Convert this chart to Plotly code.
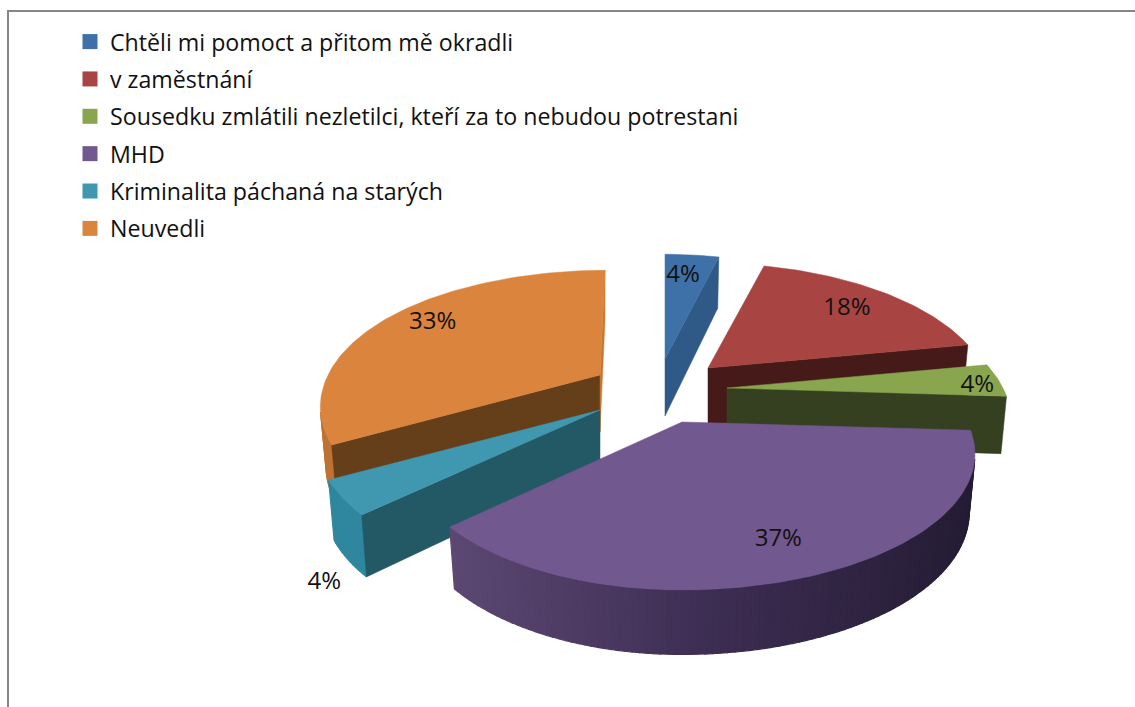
import math
import plotly.graph_objects as go

# ---- data ----
categories = ["Chtěli mi pomoct a přitom mě okradli", "v zaměstnání",
              "Sousedku zmlátili nezletilci, kteří za to nebudou potrestani",
              "MHD", "Kriminalita páchaná na starých", "Neuvedli"]
values = [4, 18, 4, 37, 4, 33]

# ---- style ----
top_colors = ["#3E71A8", "#A84442", "#89A54E", "#71588F", "#4098B0", "#DB843D"]
radial_colors = ["#2F5A87", "#451A18", "#344020", "#4A3A60", "#235865", "#653E1A"]
end_wall_colors = ["#2F5A87", "#451A18", "#344020", "#4A3A60", "#235865", "#C8762F"]
outer_colors = ["#2F5A87", "#6E2C2A", "#5E7235", None, "#2E879E", "#BE7234"]
# exploded position of each slice's tip, in page pixels
tips = [(665, 359), (708, 368), (727, 388), (682, 422), (600, 410), (600, 375)]
# horizontal reach right/left of each slice
reach = [(265, 265), (276, 276), (276, 276), (285, 268), (275, 275), (272, 272)]
# sideways lean of the back of a slice
lean = [0, 0, 0, 0, 0, 5]
label_frac = [0.82, 0.80, 0.90, 0.78, 1.00, 0.80]
label_shift = [(-4, 2), (0, 2), (6, 5), (0, -3), (-18, 85), (0, -5)]
B, K, H = 129, 0.232, 57
draw_order = [0, 1, 5, 2, 4, 3]
FONT = "Open Sans"


def project(i, theta):
    X, Y = math.sin(theta), math.cos(theta)
    p = 1 / (1 + K * Y)
    A = reach[i][0] if X >= 0 else reach[i][1]
    return tips[i][0] + A * X * p + lean[i] * max(Y, 0) ** 4, tips[i][1] - B * Y * p


def drop(i, pt, theta):
    Y = math.cos(theta)
    x, y = pt
    return tips[i][0] + (x - tips[i][0]) * 0.98, y + H / (1 + 0.5 * K * Y)


def area(poly):
    return sum(poly[j][0] * poly[(j + 1) % len(poly)][1] - poly[(j + 1) % len(poly)][0] * poly[j][1]
               for j in range(len(poly))) / 2


def face(fig, poly, color, width=0.5):
    xs = [p[0] for p in poly] + [poly[0][0]]
    ys = [p[1] for p in poly] + [poly[0][1]]
    fig.add_trace(go.Scatter(x=xs, y=ys, mode="lines", fill="toself", fillcolor=color,
                             line=dict(color=color, width=width), showlegend=False, hoverinfo="skip"))


def purple_wall(xpos):
    stops = [(450, (92, 72, 114)), (700, (62, 46, 84)), (975, (36, 28, 52))]
    for (a, ca), (b, cb) in zip(stops, stops[1:]):
        if xpos <= b:
            t = max(0, (xpos - a) / (b - a))
            return "rgb(%d,%d,%d)" % tuple(round(u + (v - u) * t) for u, v in zip(ca, cb))
    return "rgb(36,28,52)"


fig = go.Figure()
total = sum(values)
starts, acc = [], 0
for v in values:
    starts.append(acc)
    acc += v

for i in draw_order:
    t0 = 2 * math.pi * starts[i] / total
    t1 = 2 * math.pi * (starts[i] + values[i]) / total
    steps = max(4, int(values[i] * 3))
    thetas = [t0 + (t1 - t0) * s / steps for s in range(steps + 1)]
    rim = [project(i, t) for t in thetas]
    low = [drop(i, r, t) for r, t in zip(rim, thetas)]
    tip = tips[i]
    tip_low = drop(i, tip, math.pi / 2)

    # outer wall, only the segments turned to the viewer
    for s in range(steps):
        quad = [rim[s], rim[s + 1], low[s + 1], low[s]]
        if area(quad) < 0:
            col = outer_colors[i] or purple_wall((rim[s][0] + rim[s + 1][0]) / 2)
            face(fig, quad, col, width=1.2)
    # radial walls
    start_wall = [tip, rim[0], low[0], tip_low]
    end_wall = [rim[-1], tip, tip_low, low[-1]]
    if area(start_wall) < 0:
        face(fig, start_wall, radial_colors[i])
    if area(end_wall) < 0:
        face(fig, end_wall, end_wall_colors[i])
    # top face
    face(fig, [tip] + rim, top_colors[i])

# percent labels
lx, ly, lt = [], [], []
for i in range(len(values)):
    mid = 2 * math.pi * (starts[i] + values[i] / 2) / total
    rx, ry = project(i, mid)
    lx.append(tips[i][0] + (rx - tips[i][0]) * label_frac[i] + label_shift[i][0])
    ly.append(tips[i][1] + (ry - tips[i][1]) * label_frac[i] + label_shift[i][1])
    lt.append(f"{round(100 * values[i] / total)}%")
fig.add_trace(go.Scatter(x=lx, y=ly, text=lt, mode="text", showlegend=False, hoverinfo="skip",
                         textfont=dict(family=FONT, size=24, color="#111111")))

# legend entries
for i, name in enumerate(categories):
    fig.add_trace(go.Scatter(x=[None], y=[None], mode="markers", name=name, legendgroup=str(i),
                             marker=dict(symbol="square", size=15, color=top_colors[i])))

fig.update_layout(
    width=1135, height=707, margin=dict(l=0, r=0, t=0, b=0),
    paper_bgcolor="white", plot_bgcolor="white",
    xaxis=dict(range=[0, 1135], visible=False, fixedrange=True),
    yaxis=dict(range=[707, 0], visible=False, fixedrange=True),
    legend=dict(x=70 / 1135, y=1 - 20 / 707, xanchor="left", yanchor="top",
                font=dict(family=FONT, size=23.2, color="#111111"),
                traceorder="grouped", tracegroupgap=4.2, bgcolor="rgba(0,0,0,0)"),
    shapes=[
        dict(type="line", x0=8, x1=8, y0=10, y1=707, line=dict(color="#868686", width=2)),
        dict(type="line", x0=7, x1=1135, y0=11, y1=11, line=dict(color="#868686", width=2)),
    ],
)
fig.write_html("out.html", config={"displayModeBar": False},
               post_script="document.body.style.margin='0';document.body.style.overflow='hidden';")
